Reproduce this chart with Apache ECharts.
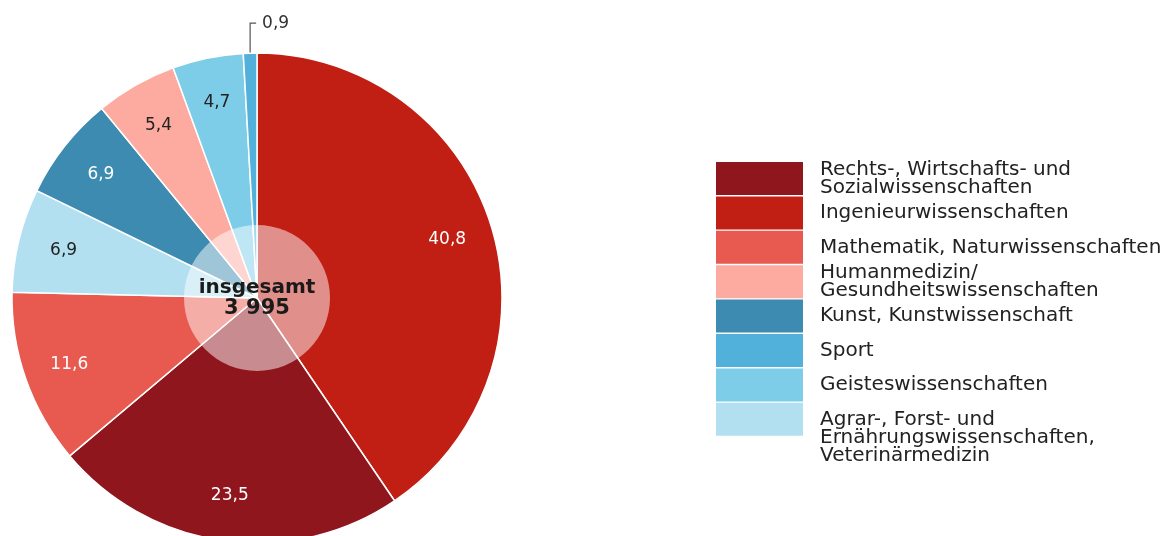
<!DOCTYPE html>
<html><head><meta charset="utf-8">
<script src="https://cdn.jsdelivr.net/npm/echarts@6/dist/echarts.min.js"></script>
<style>html,body{margin:0;padding:0;background:#fff}#c{width:1173px;height:536px}</style>
</head><body><div id="c"></div>
<script>
// Legend order
const categories = [
  'Rechts-, Wirtschafts- und\nSozialwissenschaften',
  'Ingenieurwissenschaften',
  'Mathematik, Naturwissenschaften',
  'Humanmedizin/\nGesundheitswissenschaften',
  'Kunst, Kunstwissenschaft',
  'Sport',
  'Geisteswissenschaften',
  'Agrar-, Forst- und\nErnährungswissenschaften,\nVeterinärmedizin'
];
const shares = [23.5, 40.8, 11.6, 5.4, 6.9, 0.9, 4.7, 6.9];
const colors = ['#90161e', '#c11f14', '#e85a4f', '#fdaba0', '#3d8bb0', '#51b1da', '#7dcde8', '#b2e0f1'];
const labelColors = ['#fff', '#fff', '#fff', '#222', '#fff', '#222', '#222', '#222'];
// Clockwise order of slices from 12 o'clock (indices into categories)
const pieOrder = [1, 0, 2, 7, 4, 3, 6, 5];
const outsideLabelCategory = 5; // Sport
const totalTitle = 'insgesamt';
const totalValue = '3 995';

const FONT = 'DejaVu Sans';
const CX = 257, CY = 298, R = 245;

const fmt = v => v.toFixed(1).replace('.', ',');

const mainData = pieOrder.map(i => ({
  name: categories[i], value: shares[i], itemStyle: { color: colors[i] }
}));
const sportPos = pieOrder.indexOf(outsideLabelCategory);
const labelData = pieOrder.map(i => {
  const d = {
    name: categories[i], value: shares[i],
    itemStyle: { color: 'rgba(0,0,0,0)' },
    label: { color: labelColors[i] }
  };
  if (i === outsideLabelCategory) {
    d.label = { position: 'outside', color: '#333' };
    d.labelLine = { show: true, length: 30, length2: 6, lineStyle: { color: '#555', width: 1.2 } };
  }
  return d;
});

const graphic = [];
categories.forEach((name, i) => {
  const top = 162 + i * 34.4;
  graphic.push({ type: 'rect', shape: { x: 716, y: top, width: 87, height: 33 }, style: { fill: colors[i] }, silent: true });
  const lines = name.split('\n').length;
  const lh = 18;
  const textTop = lines > 2 ? top + 16.5 - lh / 2 : top + 16.5 - lines * lh / 2;
  graphic.push({ type: 'text', x: 820, y: textTop, silent: true,
    style: { text: name, fontFamily: FONT, fontSize: 20, lineHeight: lh, fill: '#222', verticalAlign: 'top', align: 'left' } });
});

const chart = echarts.init(document.getElementById('c'), null, { renderer: 'canvas' });
chart.setOption({
  animation: false,
  backgroundColor: '#fff',
  graphic: graphic,
  series: [
    {
      type: 'pie', center: [CX, CY], radius: [0, R], startAngle: 90, clockwise: true,
      silent: true, label: { show: false }, labelLine: { show: false },
      itemStyle: { borderColor: '#fff', borderWidth: 1.5 },
      emphasis: { disabled: true },
      data: mainData
    },
    {
      type: 'pie', center: [CX, CY], radius: [0, 73], silent: true,
      emphasis: { disabled: true },
      label: {
        show: true, position: 'center',
        formatter: '{a|' + totalTitle + '}\n{b|' + totalValue + '}',
        rich: {
          a: { fontFamily: FONT, fontWeight: 'bold', fontSize: 20, lineHeight: 21, color: '#1a1a1a' },
          b: { fontFamily: FONT, fontWeight: 'bold', fontSize: 21, lineHeight: 21, color: '#1a1a1a' }
        }
      },
      labelLine: { show: false },
      data: [{ name: totalTitle, value: 1, itemStyle: { color: 'rgba(255,255,255,0.5)' } }]
    },
    {
      type: 'pie', center: [CX, CY], radius: [147, R], startAngle: 90, clockwise: true,
      silent: true, avoidLabelOverlap: false,
      emphasis: { disabled: true },
      itemStyle: { borderWidth: 0 },
      label: {
        show: true, position: 'inside', fontFamily: FONT, fontSize: 17,
        formatter: p => fmt(p.value)
      },
      labelLine: { show: false },
      labelLayout: function (p) {
        if (p.dataIndex === sportPos && p.labelLinePoints) {
          const e = p.labelLinePoints[0];
          const topY = e[1] - 30;
          return {
            x: e[0] + 12, y: topY, align: 'left', verticalAlign: 'middle',
            labelLinePoints: [[e[0], e[1]], [e[0], topY], [e[0] + 6, topY]]
          };
        }
        return {};
      },
      data: labelData
    }
  ]
});
</script>
</body></html>
